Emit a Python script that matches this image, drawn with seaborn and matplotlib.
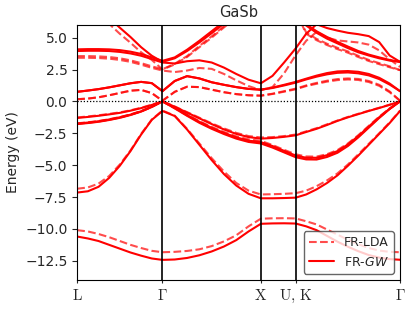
import numpy as np
import pandas as pd
import matplotlib
matplotlib.use("Agg")
import matplotlib.pyplot as plt
import seaborn as sns
from matplotlib.lines import Line2D
from matplotlib.ticker import MultipleLocator

# high symmetry path of the fcc zone (units of 2pi/a)
kpt_labels = [r"$\mathrm{L}$", r"$\Gamma$", r"$\mathrm{X}$", r"$\mathrm{U,\,K}$", r"$\Gamma$"]
kpt_pos = [0.0, 0.866, 1.866, 2.220, 3.280]
seg_steps = [8, 8, 3, 10]  # samples per segment L-G, G-X, X-U, K-G

# band energies (eV) read at the k samples, 30 values per band
# order: L..G (9) | G..X (8) | X..U (3) | K..G (10)
gw_s = [-10.6, -10.75, -10.95, -11.25, -11.55, -11.85, -12.1, -12.32, -12.43,
        -12.4, -12.28, -12.07, -11.77, -11.38, -10.88, -10.2, -9.6,
        -9.57, -9.56, -9.58,
        -9.8, -10.1, -10.55, -11.0, -11.4, -11.75, -12.05, -12.25, -12.37, -12.42]
gw_p = [-7.15, -7.05, -6.7, -6.0, -5.05, -3.9, -2.6, -1.45, -0.75,
        -1.15, -2.2, -3.4, -4.6, -5.7, -6.6, -7.25, -7.6,
        -7.6, -7.58, -7.55,
        -7.3, -6.9, -6.4, -5.8, -5.05, -4.25, -3.4, -2.55, -1.7, -0.75]
gw_va = [-1.3, -1.22, -1.13, -1.02, -0.9, -0.73, -0.53, -0.28, 0.0,
         -0.42, -0.88, -1.33, -1.78, -2.2, -2.55, -2.8, -2.92,
         -2.87, -2.78, -2.66,
         -2.4, -2.15, -1.85, -1.53, -1.25, -1.0, -0.75, -0.52, -0.27, 0.0]
gw_vb = [-1.74, -1.66, -1.56, -1.42, -1.25, -1.04, -0.78, -0.42, 0.0,
         -0.5, -1.07, -1.6, -2.07, -2.47, -2.82, -3.08, -3.2,
         -3.5, -3.88, -4.25,
         -4.42, -4.42, -4.22, -3.9, -3.38, -2.72, -1.98, -1.25, -0.58, 0.0]
gw_vc = [-1.78, -1.7, -1.6, -1.46, -1.29, -1.07, -0.8, -0.44, 0.0,
         -0.55, -1.13, -1.68, -2.15, -2.56, -2.92, -3.18, -3.3,
         -3.62, -4.0, -4.38,
         -4.55, -4.56, -4.36, -4.03, -3.5, -2.82, -2.06, -1.3, -0.6, 0.0]
gw_c1 = [0.75, 0.85, 0.96, 1.1, 1.26, 1.42, 1.53, 1.43, 0.8,
         1.6, 1.98, 1.8, 1.5, 1.3, 1.12, 0.98, 0.92,
         1.08, 1.3, 1.53,
         1.78, 2.02, 2.22, 2.35, 2.38, 2.32, 2.15, 1.85, 1.4, 0.8]
gw_c1b = [0.75, 0.85, 0.96, 1.1, 1.26, 1.42, 1.53, 1.43, 0.8,
          1.6, 1.98, 1.8, 1.5, 1.3, 1.12, 0.98, 0.92,
          1.05, 1.25, 1.47,
          1.72, 1.94, 2.12, 2.24, 2.27, 2.2, 2.04, 1.75, 1.32, 0.8]
gw_c2 = [3.95, 3.97, 3.97, 3.95, 3.88, 3.76, 3.58, 3.32, 3.05,
         2.97, 3.15, 3.22, 3.05, 2.65, 2.15, 1.7, 1.42,
         2.0, 3.05, 4.16,
         5.3, 6.05, 5.75, 5.55, 5.38, 5.27, 5.12, 4.65, 3.6, 3.1]
gw_c3 = [4.08, 4.1, 4.1, 4.08, 4.02, 3.9, 3.72, 3.45, 3.18,
         3.45, 4.05, 4.75, 5.5, 6.25, 7.0, 7.6, 8.0,
         8.2, 8.0, 7.4,
         6.05, 5.5, 5.05, 4.67, 4.3, 3.95, 3.67, 3.45, 3.25, 3.1]
gw_c4 = [9.0, 8.2, 7.3, 6.55, 5.78, 5.05, 4.25, 3.58, 3.1,
         3.38, 3.95, 4.62, 5.35, 6.1, 6.85, 7.5, 7.9,
         8.1, 7.9, 7.3,
         5.95, 5.38, 4.92, 4.55, 4.18, 3.85, 3.6, 3.38, 3.2, 3.1]

lda_s = [-10.1, -10.2, -10.4, -10.65, -10.95, -11.25, -11.5, -11.72, -11.83,
         -11.8, -11.73, -11.6, -11.35, -10.98, -10.5, -9.8, -9.2,
         -9.17, -9.16, -9.18,
         -9.4, -9.65, -10.05, -10.45, -10.85, -11.2, -11.5, -11.7, -11.8, -11.83]
lda_p = [-6.85, -6.75, -6.45, -5.85, -4.95, -3.85, -2.55, -1.42, -0.72,
         -1.12, -2.15, -3.3, -4.45, -5.5, -6.4, -7.0, -7.3,
         -7.28, -7.25, -7.2,
         -7.0, -6.65, -6.2, -5.65, -4.95, -4.15, -3.33, -2.5, -1.65, -0.72]
lda_va = [-1.26, -1.18, -1.09, -0.98, -0.86, -0.7, -0.5, -0.26, 0.0,
          -0.4, -0.84, -1.28, -1.72, -2.12, -2.47, -2.72, -2.83,
          -2.8, -2.72, -2.6,
          -2.35, -2.1, -1.8, -1.5, -1.22, -0.97, -0.73, -0.5, -0.26, 0.0]
lda_vb = [-1.72, -1.64, -1.54, -1.4, -1.23, -1.02, -0.76, -0.41, 0.0,
          -0.48, -1.03, -1.55, -2.0, -2.4, -2.74, -2.98, -3.1,
          -3.42, -3.8, -4.15,
          -4.32, -4.33, -4.14, -3.82, -3.3, -2.65, -1.92, -1.2, -0.55, 0.0]
lda_vc = [-1.76, -1.68, -1.58, -1.44, -1.27, -1.05, -0.78, -0.43, 0.0,
          -0.53, -1.09, -1.62, -2.08, -2.48, -2.83, -3.08, -3.2,
          -3.52, -3.9, -4.27,
          -4.45, -4.46, -4.27, -3.94, -3.4, -2.74, -2.0, -1.26, -0.58, 0.0]
lda_c1 = [0.17, 0.22, 0.32, 0.48, 0.66, 0.84, 0.9, 0.65, 0.05,
          0.75, 1.15, 1.12, 0.92, 0.72, 0.57, 0.48, 0.45,
          0.6, 0.8, 1.0,
          1.25, 1.45, 1.62, 1.75, 1.8, 1.76, 1.6, 1.3, 0.78, 0.05]
lda_c1b = [0.17, 0.22, 0.32, 0.48, 0.66, 0.84, 0.9, 0.65, 0.05,
           0.75, 1.15, 1.12, 0.92, 0.72, 0.57, 0.48, 0.45,
           0.58, 0.76, 0.95,
           1.2, 1.38, 1.55, 1.67, 1.72, 1.68, 1.52, 1.22, 0.72, 0.05]
lda_c2 = [3.42, 3.42, 3.4, 3.35, 3.25, 3.1, 2.88, 2.63, 2.42,
          2.3, 2.42, 2.62, 2.55, 2.15, 1.65, 1.2, 0.88,
          1.12, 2.2, 3.63,
          4.75, 5.45, 5.0, 4.78, 4.7, 4.62, 4.45, 4.0, 3.3, 2.7]
lda_c3 = [3.55, 3.55, 3.53, 3.48, 3.38, 3.22, 3.0, 2.75, 2.52,
          2.95, 3.55, 4.35, 5.1, 5.9, 6.7, 7.3, 7.7,
          8.0, 7.8, 7.2,
          5.4, 4.9, 4.52, 4.2, 3.92, 3.57, 3.25, 3.0, 2.75, 2.45]
lda_c4 = [8.5, 7.7, 6.9, 6.08, 5.3, 4.6, 3.85, 3.25, 2.5,
          2.9, 3.48, 4.25, 5.0, 5.8, 6.6, 7.2, 7.6,
          7.9, 7.7, 7.1,
          5.3, 4.8, 4.42, 4.1, 3.82, 3.48, 3.17, 2.92, 2.68, 2.45]

gw_bands = [gw_s, gw_p, gw_va, gw_vb, gw_vc, gw_c1, gw_c1b, gw_c2, gw_c3, gw_c4]
lda_bands = [lda_s, lda_p, lda_va, lda_vb, lda_vc, lda_c1, lda_c1b, lda_c2, lda_c3, lda_c4]

# k coordinate of every sample along the path
kpath = [kpt_pos[0]]
for a, b, n in zip(kpt_pos[:-1], kpt_pos[1:], seg_steps):
    kpath += list(np.linspace(a, b, n + 1)[1:])

frames = []
for method, bands in [("FR-LDA", lda_bands), ("FR-GW", gw_bands)]:
    for i, e in enumerate(bands):
        frames.append(pd.DataFrame({"k": kpath, "E": e, "band": f"{method}_{i}", "method": method}))
df = pd.concat(frames, ignore_index=True)

sns.set_style("ticks")
plt.rcParams["font.family"] = ["DejaVu Sans"]

fig, ax = plt.subplots(figsize=(4.15, 3.11), dpi=100)
fig.subplots_adjust(left=0.186, right=0.964, top=0.92, bottom=0.10)

sns.lineplot(data=df[df["method"] == "FR-LDA"], x="k", y="E", units="band", estimator=None,
             sort=False, color="red", linestyle="--", alpha=0.7, lw=1.5, legend=False, ax=ax)
sns.lineplot(data=df[df["method"] == "FR-GW"], x="k", y="E", units="band", estimator=None,
             sort=False, color="red", linestyle="-", lw=1.5, legend=False, ax=ax)

for kp in kpt_pos[1:-1]:
    ax.axvline(kp, color="k", lw=1.2)
ax.axhline(0, color="k", ls=(0, (1, 1.5)), lw=0.9)

ax.set_xlim(kpt_pos[0], kpt_pos[-1])
ax.set_ylim(-14, 6)
ax.yaxis.set_major_locator(MultipleLocator(2.5))
ax.set_xticks(kpt_pos)
ax.set_xticklabels(kpt_labels, math_fontfamily="cm", fontsize=11)
ax.tick_params(axis="x", length=2)
ax.set_xlabel("")
ax.set_ylabel("Energy (eV)", fontsize=10)
ax.set_title("GaSb", fontsize=10.5)
for s in ax.spines.values():
    s.set_color("k")

handles = [Line2D([], [], color="red", ls="--", alpha=0.7, lw=1.5),
           Line2D([], [], color="red", ls="-", lw=1.5)]
leg = ax.legend(handles, ["FR-LDA", "FR-$GW$"], loc="lower right", fontsize=9)
leg.get_frame().set_edgecolor("0.25")

fig.savefig("out.png", dpi=100)
